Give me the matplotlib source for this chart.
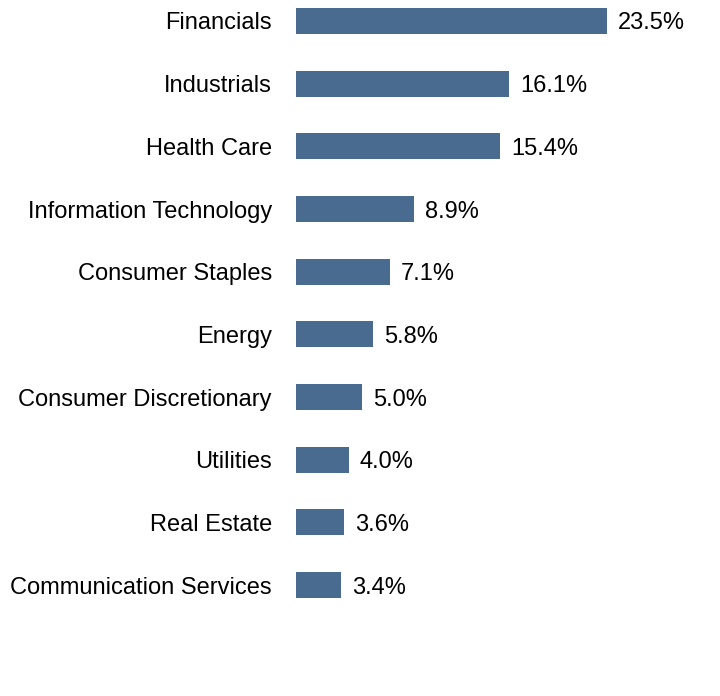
import matplotlib
matplotlib.use("Agg")
import matplotlib.pyplot as plt

categories = ["Financials", "Industrials", "Health Care", "Information Technology",
              "Consumer Staples", "Energy", "Consumer Discretionary", "Utilities",
              "Real Estate", "Communication Services"]
values = [23.5, 16.1, 15.4, 8.9, 7.1, 5.8, 5.0, 4.0, 3.6, 3.4]
value_labels = ["23.5%", "16.1%", "15.4%", "8.9%", "7.1%", "5.8%", "5.0%", "4.0%", "3.6%", "3.4%"]

plt.rcParams['font.family'] = ['Liberation Sans', 'DejaVu Sans']

W, H = 720, 696
fig = plt.figure(figsize=(W / 100, H / 100), dpi=100)
left_px = 296
px_per_unit = 311 / 23.5
xmax = 30
right_px = left_px + xmax * px_per_unit
ax = fig.add_axes([left_px / W, 0, (right_px - left_px) / W, 1])

step = 62.7
top_off = 21 / step
bottom_off = (H - 585) / step
pos = list(range(len(categories)))
ax.barh(pos, values, height=26 / step, color="#486b8f", left=0)
ax.set_ylim(len(categories) - 1 + bottom_off, -top_off)
ax.set_xlim(0, xmax)
ax.set_yticks(pos)
ax.set_yticklabels(categories, fontsize=17, va='center_baseline')
ax.tick_params(axis='y', length=0, pad=24 * 0.72)
ax.set_xticks([])
for s in ax.spines.values():
    s.set_visible(False)
for p, v, t in zip(pos, values, value_labels):
    ax.annotate(t, (v, p), xytext=(11 * 0.72, 0), textcoords='offset points',
                va='center_baseline', ha='left', fontsize=17)

fig.savefig("out.png", dpi=100)
